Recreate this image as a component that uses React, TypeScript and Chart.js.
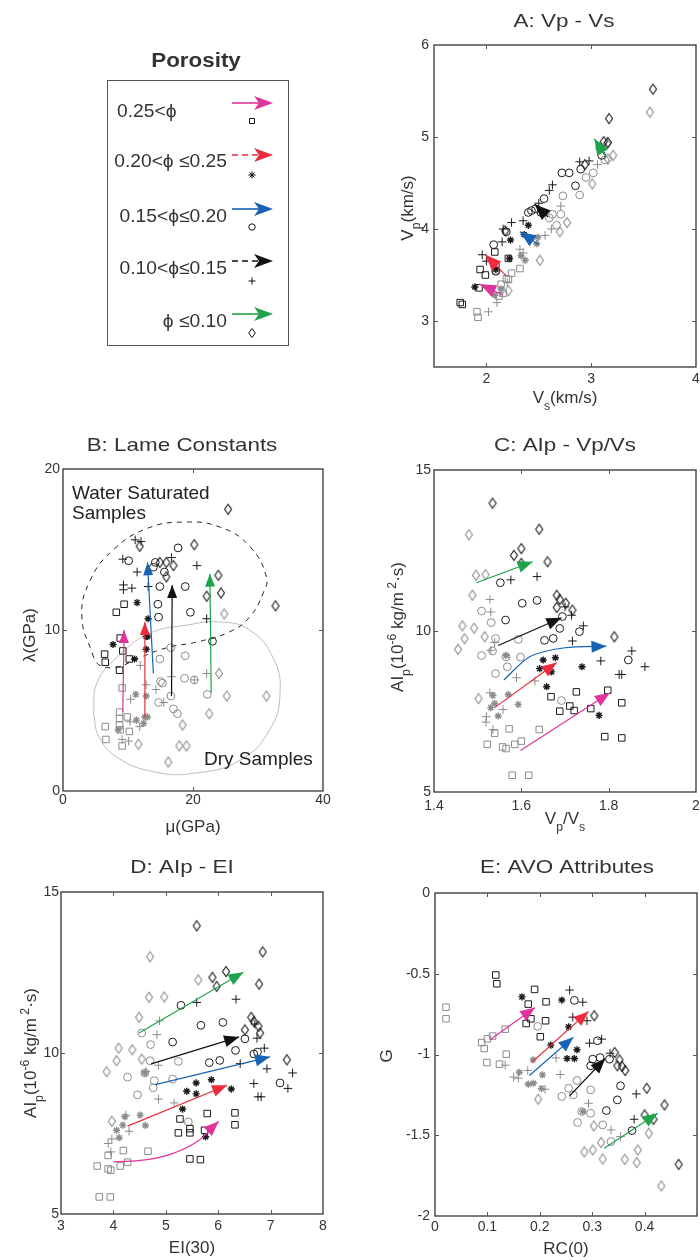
import React, { useEffect, useRef } from "react";
import { Chart, registerables } from "chart.js";

Chart.register(...registerables);

const FONT = '"Liberation Sans", Arial, Helvetica, sans-serif';
const W = 700;
const H = 1260;
const YW = 40;
const XH = 30;

const PINK = "#e0349b";
const RED = "#ec2b3c";
const BLUE = "#1763b6";
const BLACK = "#111111";
const GREEN = "#1fa34b";
const SAT = "#1a1a1a";
const DRY = "#8c8c8c";

type Pt = [number, number];

// ---------------- Panel A: Vp - Vs ----------------
const aTicksX = [2, 3, 4];
const aTicksY = [3, 4, 5, 6];
const aSquareSat: Pt[] = [[1.75, 3.2], [1.77, 3.18], [1.94, 3.56], [1.99, 3.5], [2.08, 3.75], [2.21, 3.68], [1.93, 3.36], [2.09, 3.6]];
const aSquareDry: Pt[] = [[1.91, 3.1], [1.92, 3.04], [2.32, 3.57], [2.24, 3.52], [2.21, 3.45], [2.14, 3.4], [2.16, 3.3], [2.19, 3.46], [2.12, 3.27]];
const aStarSat: Pt[] = [[1.89, 3.37], [2.22, 3.68], [2.23, 3.88], [2.4, 4.04], [2.09, 3.56], [2.36, 3.94]];
const aStarDry: Pt[] = [[2.08, 3.28], [2.37, 3.66], [2.49, 3.91], [2.48, 3.84], [2.33, 3.71], [2.14, 3.35]];
const aCircleSat: Pt[] = [[2.72, 4.61], [2.79, 4.61], [2.85, 4.47], [2.9, 4.65], [3.1, 4.8], [2.43, 4.2], [2.47, 4.22], [2.55, 4.33], [2.07, 3.83], [2.19, 3.97], [2.09, 3.54], [2.52, 4.18], [2.4, 4.18]];
const aCircleDry: Pt[] = [[2.73, 4.36], [2.89, 4.37], [2.95, 4.56], [3.02, 4.61], [2.63, 4.16], [2.71, 4.16], [2.67, 4.04], [2.6, 4.12], [2.09, 3.55], [3.13, 4.75]];
const aPlusSat: Pt[] = [[1.96, 3.72], [2.0, 3.65], [2.24, 4.07], [2.35, 4.09], [2.15, 3.86], [2.16, 4.0], [2.63, 4.48], [2.6, 4.42], [2.89, 4.73], [2.98, 4.74], [2.5, 4.28]];
const aPlusDry: Pt[] = [[2.02, 3.1], [2.1, 3.2], [2.13, 3.31], [2.32, 3.78], [2.35, 3.74], [2.56, 3.93], [2.71, 4.25], [2.62, 4.0], [3.06, 4.7], [2.2, 3.42]];
const aDiamondSat: Pt[] = [[3.59, 5.52], [3.17, 5.2], [3.12, 4.95], [3.16, 4.94], [2.94, 4.7], [2.18, 3.98], [3.08, 4.88]];
const aDiamondDry: Pt[] = [[3.56, 5.27], [3.21, 4.8], [3.16, 4.76], [3.01, 4.49], [2.77, 4.07], [2.7, 3.97], [2.51, 3.66], [2.21, 3.33], [3.15, 4.93]];
const aPinkArrow: Pt[] = [[2.16, 3.28], [1.94, 3.4]];
const aRedArrow: Pt[] = [[2.19, 3.49], [1.99, 3.72]];
const aBlueArrow: Pt[] = [[2.5, 3.83], [2.32, 3.97]];
const aBlackArrow: Pt[] = [[2.59, 4.13], [2.46, 4.27]];
const aGreenArrow: Pt[] = [[3.14, 4.78], [3.03, 4.98]];

// ---------------- Panel B: Lame constants ----------------
const bTicksX = [0, 20, 40];
const bTicksY = [0, 10, 20];
const bSquareSat: Pt[] = [[8.2, 11.1], [9.4, 11.6], [8.8, 9.5], [9.2, 8.7], [6.4, 8.5], [6.5, 8.0], [10.2, 8.2], [8.7, 7.5]];
const bSquareDry: Pt[] = [[9.1, 6.4], [8.7, 4.9], [8.7, 4.5], [8.7, 4.1], [8.8, 3.8], [9.9, 4.6], [10.2, 3.7], [6.5, 4.0], [6.6, 3.2], [9.1, 2.8]];
const bStarSat: Pt[] = [[11.4, 11.7], [13.1, 10.7], [12.8, 9.6], [12.8, 8.8], [7.7, 9.1], [11.0, 8.2], [13.0, 9.6]];
const bStarDry: Pt[] = [[11.2, 6.0], [12.8, 5.9], [12.6, 4.6], [13.0, 4.6], [11.3, 4.4], [12.4, 4.2], [8.5, 3.8]];
const bCircleSat: Pt[] = [[17.7, 15.1], [10.1, 14.3], [13.9, 13.9], [14.2, 14.2], [15.6, 13.6], [14.9, 12.7], [18.8, 12.7], [14.6, 11.6], [14.7, 10.8], [19.6, 11.1], [23.0, 9.3]];
const bCircleDry: Pt[] = [[14.9, 8.2], [16.6, 8.9], [18.8, 8.4], [15.0, 6.8], [15.3, 6.7], [18.7, 7.0], [20.2, 6.9], [16.6, 5.9], [14.7, 5.5], [17.0, 5.1], [17.6, 4.8], [22.2, 6.0]];
const bPlusSat: Pt[] = [[11.1, 15.6], [12.0, 15.5], [9.2, 14.4], [16.7, 14.5], [20.6, 14.0], [11.4, 13.6], [9.3, 12.8], [10.6, 12.6], [9.3, 12.5], [13.1, 12.7], [22.1, 10.7]];
const bPlusDry: Pt[] = [[11.9, 7.8], [12.8, 6.6], [14.3, 6.3], [15.5, 5.5], [16.7, 7.1], [10.4, 5.7], [10.3, 4.3], [11.8, 4.0], [9.1, 3.2], [10.1, 3.1], [22.1, 7.3], [20.2, 6.9]];
const bDiamondSat: Pt[] = [[25.4, 17.5], [20.2, 15.3], [11.8, 15.2], [14.9, 14.2], [15.9, 14.2], [17.0, 14.0], [15.9, 13.3], [23.9, 13.4], [24.3, 12.3], [22.1, 12.1], [32.7, 11.5]];
const bDiamondDry: Pt[] = [[24.8, 11.0], [24.0, 7.3], [25.2, 5.9], [31.3, 5.9], [18.4, 4.1], [22.5, 4.8], [17.9, 2.8], [19.0, 2.8], [11.6, 2.9], [16.2, 1.8]];
const bPinkArrow: Pt[] = [[9.2, 4.9], [9.4, 10.0]];
const bRedArrow: Pt[] = [[12.6, 4.6], [12.6, 10.5]];
const bBlueArrow: Pt[] = [[13.9, 7.3], [13.0, 14.2]];
const bBlackArrow: Pt[] = [[16.7, 5.9], [16.8, 12.8]];
const bGreenArrow: Pt[] = [[22.8, 6.1], [22.6, 13.5]];
const bWetContour: Pt[] = [[4.7, 8.3], [2.9, 10.8], [4.2, 13.1], [7.8, 15.0], [12.9, 16.3], [18.5, 16.7], [24.1, 16.4], [28.7, 15.2], [31.3, 13.3], [30.8, 12.3], [28.7, 10.8], [25.7, 9.9], [21.1, 9.3], [16.0, 8.9], [11.9, 8.3], [8.3, 7.7], [5.7, 7.8], [4.7, 8.3]];
const bDryContour: Pt[] = [[4.7, 4.8], [5.2, 6.7], [8.3, 8.3], [13.4, 9.8], [19.0, 10.3], [24.1, 10.5], [28.7, 10.0], [32.3, 8.3], [33.4, 6.1], [31.8, 3.8], [27.2, 1.9], [20.1, 1.1], [13.9, 1.2], [8.3, 2.1], [5.5, 3.4], [4.7, 4.8]];

// ---------------- Panel C: AIp - Vp/Vs ----------------
const cTicksX = [1.4, 1.6, 1.8, 2];
const cTicksY = [5, 10, 15];
const cSquareSat: Pt[] = [[1.668, 7.96], [1.726, 8.11], [1.688, 7.51], [1.711, 7.67], [1.721, 7.53], [1.759, 7.59], [1.798, 8.16], [1.83, 7.77], [1.791, 6.72], [1.83, 6.68]];
const cSquareDry: Pt[] = [[1.522, 6.48], [1.539, 6.82], [1.572, 6.96], [1.557, 6.4], [1.565, 6.35], [1.585, 6.48], [1.6, 6.58], [1.641, 6.94], [1.579, 5.52], [1.617, 5.52]];
const cStarSat: Pt[] = [[1.65, 9.1], [1.678, 9.17], [1.642, 8.83], [1.669, 8.73], [1.658, 8.27], [1.739, 8.89], [1.778, 7.38]];
const cStarDry: Pt[] = [[1.535, 8.0], [1.539, 7.75], [1.53, 7.62], [1.57, 8.03], [1.593, 7.72], [1.547, 7.36], [1.565, 9.24]];
const cCircleSat: Pt[] = [[1.552, 11.5], [1.602, 10.86], [1.636, 10.95], [1.564, 10.34], [1.694, 10.45], [1.688, 10.08], [1.673, 9.77], [1.653, 9.71], [1.733, 9.98], [1.845, 9.1]];
const cCircleDry: Pt[] = [[1.509, 10.62], [1.531, 10.26], [1.541, 9.77], [1.509, 9.24], [1.534, 9.38], [1.565, 9.2], [1.568, 8.89], [1.541, 8.68], [1.593, 9.74], [1.598, 9.19], [1.692, 7.84]];
const cPlusSat: Pt[] = [[1.576, 11.59], [1.636, 11.69], [1.715, 10.49], [1.742, 10.16], [1.717, 9.69], [1.853, 9.38], [1.782, 9.07], [1.824, 8.65], [1.83, 8.65], [1.883, 8.89], [1.7, 10.75]];
const cPlusDry: Pt[] = [[1.528, 10.98], [1.53, 10.59], [1.539, 9.64], [1.589, 8.55], [1.631, 8.45], [1.528, 8.08], [1.558, 7.56], [1.52, 7.34], [1.519, 7.17], [1.535, 6.94], [1.53, 9.4]];
const cDiamondSat: Pt[] = [[1.534, 13.97], [1.641, 13.16], [1.6, 12.56], [1.583, 12.35], [1.66, 12.15], [1.681, 11.11], [1.688, 10.98], [1.702, 10.86], [1.717, 10.65], [1.681, 10.73], [1.813, 9.82], [1.6, 12.1]];
const cDiamondDry: Pt[] = [[1.48, 12.99], [1.496, 11.73], [1.518, 11.75], [1.488, 11.11], [1.465, 10.16], [1.47, 9.76], [1.492, 10.09], [1.516, 9.82], [1.455, 9.43], [1.502, 7.9]];
const cPinkArrow: Pt[] = [[1.598, 6.29], [1.803, 8.08]];
const cRedArrow: Pt[] = [[1.539, 7.62], [1.681, 9.02]];
const cBlueArrow: Pt[] = [[1.56, 8.48], [1.619, 9.2], [1.7, 9.48], [1.795, 9.53]];
const cBlackArrow: Pt[] = [[1.547, 9.55], [1.692, 10.41]];
const cGreenArrow: Pt[] = [[1.497, 11.5], [1.626, 12.15]];

// ---------------- Panel D: AIp - EI ----------------
const dTicksX = [3, 4, 5, 6, 7, 8];
const dTicksY = [5, 10, 15];
const dSquareSat: Pt[] = [[5.27, 7.95], [5.79, 8.12], [6.32, 8.14], [6.32, 7.77], [5.24, 7.52], [5.46, 7.52], [5.46, 7.65], [5.74, 7.6], [5.46, 6.71], [5.66, 6.69]];
const dSquareDry: Pt[] = [[3.69, 6.49], [3.9, 6.82], [4.19, 6.97], [3.9, 6.4], [3.95, 6.36], [4.13, 6.49], [4.27, 6.61], [4.66, 6.95], [3.73, 5.53], [3.94, 5.53]];
const dStarSat: Pt[] = [[5.4, 8.81], [5.58, 9.07], [5.58, 8.73], [5.87, 9.17], [6.25, 8.88], [5.32, 8.26], [5.76, 7.4]];
const dStarDry: Pt[] = [[4.22, 8.02], [4.18, 7.76], [4.51, 8.07], [4.61, 7.75], [4.06, 7.6], [4.11, 7.37], [4.6, 9.38]];
const dCircleSat: Pt[] = [[5.29, 11.48], [5.67, 10.86], [6.09, 10.95], [5.13, 10.34], [6.51, 10.44], [6.33, 10.08], [6.68, 9.97], [6.75, 10.03], [6.03, 9.77], [5.83, 9.7], [7.18, 9.07]];
const dCircleDry: Pt[] = [[4.54, 10.62], [4.71, 10.26], [4.7, 9.76], [4.27, 9.25], [4.6, 9.38], [4.78, 9.14], [4.76, 8.92], [4.46, 8.7], [5.24, 9.74], [5.13, 9.19], [5.43, 7.86]];
const dPlusSat: Pt[] = [[5.59, 11.57], [6.34, 11.67], [6.74, 10.46], [6.88, 10.15], [6.42, 9.67], [6.93, 9.51], [6.68, 9.05], [6.76, 8.64], [6.82, 8.64], [7.42, 9.38], [7.33, 8.9], [6.7, 10.9]];
const dPlusDry: Pt[] = [[4.88, 11.0], [4.83, 10.57], [4.62, 9.43], [4.86, 9.62], [4.86, 8.57], [5.16, 8.45], [4.24, 8.07], [4.3, 7.57], [3.97, 7.33], [3.9, 7.19], [3.95, 6.93]];
const dDiamondSat: Pt[] = [[5.59, 13.95], [6.85, 13.14], [6.15, 12.53], [5.89, 12.35], [5.97, 12.07], [6.78, 12.14], [6.63, 11.11], [6.68, 10.98], [6.77, 10.83], [6.8, 10.62], [6.51, 10.72], [7.31, 9.79]];
const dDiamondDry: Pt[] = [[4.7, 12.99], [5.62, 12.27], [4.68, 11.73], [4.97, 11.74], [4.49, 11.11], [4.1, 10.15], [4.36, 10.1], [4.06, 9.76], [4.54, 9.81], [3.87, 9.42], [3.97, 7.88]];
const dPinkArrow: Pt[] = [[4.0, 6.62], [4.6, 6.68], [5.1, 6.86], [5.6, 7.25], [6.01, 7.88]];
const dRedArrow: Pt[] = [[4.27, 7.73], [6.17, 9.0]];
const dBlueArrow: Pt[] = [[4.8, 9.02], [6.99, 9.88]];
const dBlackArrow: Pt[] = [[4.72, 9.66], [6.4, 10.5]];
const dGreenArrow: Pt[] = [[4.49, 10.62], [6.48, 12.51]];

// ---------------- Panel E: AVO attributes ----------------
const eTicksX = [0, 0.1, 0.2, 0.3, 0.4];
const eTicksY = [0, -0.5, -1, -1.5, -2];
const eSquareSat: Pt[] = [[0.116, -0.508], [0.118, -0.562], [0.19, -0.597], [0.178, -0.688], [0.212, -0.674], [0.183, -0.779], [0.174, -0.808], [0.211, -0.791], [0.201, -0.89]];
const eSquareDry: Pt[] = [[0.021, -0.707], [0.021, -0.779], [0.089, -0.926], [0.1, -0.903], [0.11, -0.886], [0.094, -0.963], [0.134, -0.843], [0.136, -0.998], [0.099, -1.05], [0.123, -1.06]];
const eStarSat: Pt[] = [[0.166, -0.643], [0.242, -0.663], [0.255, -0.829], [0.221, -0.942], [0.271, -0.971], [0.252, -1.025], [0.266, -1.025]];
const eStarDry: Pt[] = [[0.187, -1.033], [0.161, -1.11], [0.188, -1.178], [0.178, -1.184], [0.203, -1.211], [0.205, -1.126], [0.282, -1.353]];
const eCircleSat: Pt[] = [[0.266, -0.665], [0.31, -0.915], [0.301, -1.029], [0.315, -1.019], [0.333, -1.029], [0.297, -1.07], [0.354, -1.194], [0.348, -1.281], [0.327, -1.347], [0.376, -1.471]];
const eCircleDry: Pt[] = [[0.196, -0.826], [0.271, -1.161], [0.255, -1.209], [0.242, -1.26], [0.264, -1.25], [0.297, -1.219], [0.297, -1.364], [0.272, -1.421], [0.32, -1.436], [0.336, -1.539], [0.28, -1.353]];
const ePlusSat: Pt[] = [[0.257, -0.601], [0.282, -0.676], [0.263, -0.769], [0.29, -0.791], [0.295, -0.93], [0.318, -0.905], [0.334, -0.992], [0.384, -1.244], [0.38, -1.401]];
const ePlusDry: Pt[] = [[0.134, -1.066], [0.15, -1.14], [0.159, -1.147], [0.177, -1.099], [0.21, -1.215], [0.239, -1.124], [0.231, -1.021], [0.293, -1.302], [0.336, -1.467], [0.354, -1.508]];
const eDiamondSat: Pt[] = [[0.304, -0.76], [0.343, -0.988], [0.352, -1.033], [0.357, -1.074], [0.348, -1.07], [0.363, -1.099], [0.404, -1.209], [0.438, -1.312], [0.4, -1.374], [0.417, -1.401], [0.465, -1.68]];
const eDiamondDry: Pt[] = [[0.197, -1.277], [0.303, -1.442], [0.317, -1.545], [0.285, -1.603], [0.301, -1.591], [0.32, -1.647], [0.362, -1.649], [0.385, -1.669], [0.387, -1.591], [0.408, -1.488], [0.432, -1.814]];
const ePinkArrow: Pt[] = [[0.105, -0.909], [0.191, -0.709]];
const eRedArrow: Pt[] = [[0.185, -1.048], [0.293, -0.733]];
const eBlueArrow: Pt[] = [[0.18, -1.13], [0.264, -0.893]];
const eBlackArrow: Pt[] = [[0.257, -1.256], [0.325, -1.025]];
const eGreenArrow: Pt[] = [[0.323, -1.581], [0.425, -1.364]];

// ---------------- Legend ----------------
const legendTitle = "Porosity";
const legendLabels = ["0.25<ϕ", "0.20<ϕ ≤0.25", "0.15<ϕ≤0.20", "0.10<ϕ≤0.15", "ϕ ≤0.10"];
const legendColors = [PINK, RED, BLUE, BLACK, GREEN];
const legendDashed = [false, true, false, true, false];
const legendMarkers = ["rect", "star", "circle", "cross", "diamond"];

// ---------------- Types & helpers ----------------
type Part = { t: string; k?: "sub" | "sup" };
interface ArrowDef { pts: Pt[]; color: string; tension?: number }
interface CurveDef { pts: Pt[]; color: string; dash: number[] }
interface Note { text: string; x: number; y: number }
interface Panel {
  frame: [number, number, number, number];
  xr: [number, number];
  yr: [number, number];
  xt: number[];
  yt: number[];
  xPad: number;
  yPad: number;
  markers: Pt[][];
  arrows: ArrowDef[];
  curves?: CurveDef[];
  head: [number, number];
  title: string;
  titleAt: [number, number];
  xLabel: Part[];
  xLabelAt: [number, number];
  yLabel: Part[];
  yLabelAt: [number, number];
  notes?: Note[];
  legend?: boolean;
}

const aiLabel: Part[] = [
  { t: "AI" }, { t: "p", k: "sub" }, { t: "(10" }, { t: "-6", k: "sup" },
  { t: " kg/m" }, { t: " 2", k: "sup" }, { t: "·s)" },
];

const PANELS: Panel[] = [
  {
    frame: [434, 45, 696, 367], xr: [1.5, 4], yr: [2.5, 6], xt: aTicksX, yt: aTicksY, xPad: 4, yPad: 5,
    markers: [aSquareSat, aSquareDry, aStarSat, aStarDry, aCircleSat, aCircleDry, aPlusSat, aPlusDry, aDiamondSat, aDiamondDry],
    arrows: [
      { pts: aPinkArrow, color: PINK }, { pts: aRedArrow, color: RED }, { pts: aBlueArrow, color: BLUE },
      { pts: aBlackArrow, color: BLACK }, { pts: aGreenArrow, color: GREEN },
    ],
    head: [16, 13],
    title: "A: Vp - Vs", titleAt: [564, 20],
    xLabel: [{ t: "V" }, { t: "s", k: "sub" }, { t: "(km/s)" }], xLabelAt: [565, 397],
    yLabel: [{ t: "V" }, { t: "p", k: "sub" }, { t: "(km/s)" }], yLabelAt: [407, 208],
    legend: true,
  },
  {
    frame: [63, 469, 323, 791], xr: [0, 40], yr: [0, 20], xt: bTicksX, yt: bTicksY, xPad: 1, yPad: 3,
    markers: [bSquareSat, bSquareDry, bStarSat, bStarDry, bCircleSat, bCircleDry, bPlusSat, bPlusDry, bDiamondSat, bDiamondDry],
    arrows: [
      { pts: bPinkArrow, color: PINK }, { pts: bRedArrow, color: RED }, { pts: bBlueArrow, color: BLUE },
      { pts: bBlackArrow, color: BLACK }, { pts: bGreenArrow, color: GREEN },
    ],
    curves: [
      { pts: bWetContour, color: "#222222", dash: [5, 5] },
      { pts: bDryContour, color: "#bdbdbd", dash: [] },
    ],
    head: [13, 10],
    title: "B: Lame Constants", titleAt: [182, 444],
    xLabel: [{ t: "μ(GPa)" }], xLabelAt: [193, 826],
    yLabel: [{ t: "λ(GPa)" }], yLabelAt: [29, 635],
    notes: [
      { text: "Water Saturated", x: 72, y: 492 },
      { text: "Samples", x: 72, y: 512 },
      { text: "Dry Samples", x: 204, y: 758 },
    ],
  },
  {
    frame: [434, 470, 696, 792], xr: [1.4, 2], yr: [5, 15], xt: cTicksX, yt: cTicksY, xPad: 6, yPad: 3,
    markers: [cSquareSat, cSquareDry, cStarSat, cStarDry, cCircleSat, cCircleDry, cPlusSat, cPlusDry, cDiamondSat, cDiamondDry],
    arrows: [
      { pts: cPinkArrow, color: PINK }, { pts: cRedArrow, color: RED }, { pts: cBlueArrow, color: BLUE, tension: 0.25 },
      { pts: cBlackArrow, color: BLACK }, { pts: cGreenArrow, color: GREEN },
    ],
    head: [15, 12],
    title: "C: AIp - Vp/Vs", titleAt: [565, 444],
    xLabel: [{ t: "V" }, { t: "p", k: "sub" }, { t: "/V" }, { t: "s", k: "sub" }], xLabelAt: [565, 818],
    yLabel: aiLabel, yLabelAt: [397, 627],
  },
  {
    frame: [61, 892, 323, 1214], xr: [3, 8], yr: [5, 15], xt: dTicksX, yt: dTicksY, xPad: 4, yPad: 2,
    markers: [dSquareSat, dSquareDry, dStarSat, dStarDry, dCircleSat, dCircleDry, dPlusSat, dPlusDry, dDiamondSat, dDiamondDry],
    arrows: [
      { pts: dPinkArrow, color: PINK, tension: 0.4 }, { pts: dRedArrow, color: RED }, { pts: dBlueArrow, color: BLUE },
      { pts: dBlackArrow, color: BLACK }, { pts: dGreenArrow, color: GREEN },
    ],
    head: [15, 12],
    title: "D: AIp - EI", titleAt: [182, 866],
    xLabel: [{ t: "EI(30)" }], xLabelAt: [192, 1247],
    yLabel: aiLabel, yLabelAt: [30, 1053],
  },
  {
    frame: [435, 893, 697, 1216], xr: [0, 0.5], yr: [-2, 0], xt: eTicksX, yt: eTicksY, xPad: 3, yPad: 5,
    markers: [eSquareSat, eSquareDry, eStarSat, eStarDry, eCircleSat, eCircleDry, ePlusSat, ePlusDry, eDiamondSat, eDiamondDry],
    arrows: [
      { pts: ePinkArrow, color: PINK }, { pts: eRedArrow, color: RED }, { pts: eBlueArrow, color: BLUE },
      { pts: eBlackArrow, color: BLACK }, { pts: eGreenArrow, color: GREEN },
    ],
    head: [15, 12],
    title: "E: AVO Attributes", titleAt: [567, 866],
    xLabel: [{ t: "RC(0)" }], xLabelAt: [566, 1248],
    yLabel: [{ t: "G" }], yLabelAt: [386, 1056],
  },
];

function drawRich(
  ctx: CanvasRenderingContext2D, parts: Part[], cx: number, cy: number, size: number,
  rot = 0, color = "#333", bold = false, stretch = 1, align: "center" | "left" | "right" = "center"
) {
  ctx.save();
  ctx.translate(cx, cy);
  ctx.rotate(rot);
  ctx.scale(stretch, 1);
  const f = (s: number) => `${bold ? "bold " : ""}${s}px ${FONT}`;
  let total = 0;
  const widths = parts.map((p) => {
    ctx.font = f(p.k ? size * 0.72 : size);
    const w = ctx.measureText(p.t).width;
    total += w;
    return w;
  });
  let x = align === "center" ? -total / 2 : align === "left" ? 0 : -total;
  ctx.textAlign = "left";
  ctx.textBaseline = "alphabetic";
  ctx.fillStyle = color;
  const base = size * 0.36;
  parts.forEach((p, i) => {
    ctx.font = f(p.k ? size * 0.72 : size);
    const dy = p.k === "sub" ? size * 0.38 : p.k === "sup" ? -size * 0.42 : 0;
    ctx.fillText(p.t, x, base + dy);
    x += widths[i];
  });
  ctx.restore();
}

function arrowHead(ctx: CanvasRenderingContext2D, tx: number, ty: number, fx: number, fy: number, len: number, wid: number, color: string) {
  const dx = tx - fx;
  const dy = ty - fy;
  const d = Math.hypot(dx, dy) || 1;
  const ux = dx / d;
  const uy = dy / d;
  const bx = tx - ux * len;
  const by = ty - uy * len;
  ctx.beginPath();
  ctx.moveTo(tx, ty);
  ctx.lineTo(bx - (uy * wid) / 2, by + (ux * wid) / 2);
  ctx.lineTo(bx + (uy * wid) / 2, by - (ux * wid) / 2);
  ctx.closePath();
  ctx.fillStyle = color;
  ctx.fill();
}

function legendMarker(ctx: CanvasRenderingContext2D, kind: string, x: number, y: number) {
  ctx.save();
  ctx.strokeStyle = "#111";
  ctx.lineWidth = 1;
  ctx.beginPath();
  if (kind === "rect") {
    ctx.rect(x - 2.5, y - 2.5, 5, 5);
  } else if (kind === "star") {
    for (let k = 0; k < 4; k++) {
      const a = (k * Math.PI) / 4;
      ctx.moveTo(x - 3.6 * Math.cos(a), y - 3.6 * Math.sin(a));
      ctx.lineTo(x + 3.6 * Math.cos(a), y + 3.6 * Math.sin(a));
    }
    ctx.lineWidth = 1;
  } else if (kind === "circle") {
    ctx.arc(x, y, 3.2, 0, Math.PI * 2);
  } else if (kind === "cross") {
    ctx.moveTo(x - 3.5, y);
    ctx.lineTo(x + 3.5, y);
    ctx.moveTo(x, y - 3.5);
    ctx.lineTo(x, y + 3.5);
  } else {
    ctx.moveTo(x, y - 4.5);
    ctx.lineTo(x + 3.3, y);
    ctx.lineTo(x, y + 4.5);
    ctx.lineTo(x - 3.3, y);
    ctx.closePath();
  }
  ctx.stroke();
  ctx.restore();
}

function drawLegend(ctx: CanvasRenderingContext2D) {
  drawRich(ctx, [{ t: legendTitle }], 196, 60, 20, 0, "#333", true, 1.12);
  ctx.save();
  ctx.strokeStyle = "#555";
  ctx.lineWidth = 1;
  ctx.strokeRect(107.5, 80.5, 181, 265);
  ctx.restore();
  const textY = [110, 160, 215, 267, 320];
  const arrowY = [103, 155, 209, 261, 314];
  const markY = [121, 175, 227, 281, 333];
  legendLabels.forEach((lab, i) => {
    if (i === 0) drawRich(ctx, [{ t: lab }], 117, textY[i], 18.5, 0, "#333", false, 1.04, "left");
    else drawRich(ctx, [{ t: lab }], 227, textY[i], 18.5, 0, "#333", false, 1.04, "right");
    const y = arrowY[i];
    ctx.save();
    ctx.strokeStyle = legendColors[i];
    ctx.lineWidth = 1.6;
    ctx.setLineDash(legendDashed[i] ? [6, 4] : []);
    ctx.beginPath();
    ctx.moveTo(232, y);
    ctx.lineTo(262, y);
    ctx.stroke();
    ctx.setLineDash([]);
    ctx.beginPath();
    ctx.moveTo(273, y);
    ctx.lineTo(254, y - 7);
    ctx.lineTo(259, y);
    ctx.lineTo(254, y + 7);
    ctx.closePath();
    ctx.fillStyle = legendColors[i];
    ctx.fill();
    ctx.restore();
    legendMarker(ctx, legendMarkers[i], 252, markY[i]);
  });
}

function makeDiamond(color: string): HTMLCanvasElement {
  const w = 7;
  const h = 10;
  const c = document.createElement("canvas");
  c.width = w + 3;
  c.height = h + 3;
  const g = c.getContext("2d") as CanvasRenderingContext2D;
  g.strokeStyle = color;
  g.lineWidth = 1.1;
  const cx = c.width / 2;
  const cy = c.height / 2;
  g.beginPath();
  g.moveTo(cx, cy - h / 2);
  g.lineTo(cx + w / 2, cy);
  g.lineTo(cx, cy + h / 2);
  g.lineTo(cx - w / 2, cy);
  g.closePath();
  g.stroke();
  return c;
}

const toXY = (pts: Pt[]) => pts.map(([x, y]) => ({ x, y }));

function makeChart(canvas: HTMLCanvasElement, p: Panel, dia: { sat: HTMLCanvasElement; dry: HTMLCanvasElement }) {
  const styles: any[] = ["rect", "rect", "star", "star", "circle", "circle", "cross", "cross", dia.sat, dia.dry];
  const radii = [4.6, 4.6, 3.6, 3.6, 3.9, 3.9, 4.3, 4.3, 5, 5];
  const datasets: any[] = [];
  p.arrows.forEach((a) => {
    datasets.push({
      data: toXY(a.pts), showLine: true, borderColor: a.color, borderWidth: 1.2,
      pointRadius: 0, pointHoverRadius: 0, tension: a.tension ?? 0, order: 0, fill: false,
      arrowHead: true, arrowColor: a.color,
    });
  });
  p.markers.forEach((m, i) => {
    const col = i % 2 === 0 ? SAT : DRY;
    datasets.push({
      data: toXY(m), showLine: false, pointStyle: styles[i], pointRadius: radii[i], pointHoverRadius: radii[i],
      pointBorderColor: col, borderColor: col, pointBackgroundColor: "rgba(0,0,0,0)", backgroundColor: "rgba(0,0,0,0)",
      pointBorderWidth: i === 2 || i === 3 ? 1.4 : 1, order: 1,
    });
  });
  (p.curves || []).forEach((c) => {
    datasets.push({
      data: toXY(c.pts), showLine: true, borderColor: c.color, borderDash: c.dash, borderWidth: 1,
      pointRadius: 0, pointHoverRadius: 0, tension: 0.45, order: 2, fill: false,
    });
  });

  const axis = (min: number, max: number, ticks: number[], pad: number, isX: boolean) => ({
    type: "linear" as const,
    min,
    max,
    grid: { display: false, drawTicks: false },
    border: { display: false },
    ticks: {
      autoSkip: false, maxRotation: 0, padding: pad, color: "#333",
      font: { family: FONT, size: 14 },
      callback: (v: any) => String(v),
    },
    afterBuildTicks: (s: any) => { s.ticks = ticks.map((v) => ({ value: v })); },
    afterFit: (s: any) => {
      if (isX) s.height = XH;
      else s.width = YW;
      s.paddingLeft = 0; s.paddingRight = 0; s.paddingTop = 0; s.paddingBottom = 0;
    },
  });

  const [l, t, r, b] = p.frame;
  const plugin = {
    id: "panelDecor",
    afterDatasetsDraw(chart: any) {
      const ctx: CanvasRenderingContext2D = chart.ctx;
      chart.data.datasets.forEach((ds: any, i: number) => {
        if (!ds.arrowHead) return;
        const pts = chart.getDatasetMeta(i).data;
        const last = pts[pts.length - 1];
        const prev = pts[pts.length - 2];
        let fx = prev.x;
        let fy = prev.y;
        if (last.cp1x !== undefined && Math.hypot(last.cp1x - last.x, last.cp1y - last.y) > 1) {
          fx = last.cp1x; fy = last.cp1y;
        }
        arrowHead(ctx, last.x, last.y, fx, fy, p.head[0], p.head[1], ds.arrowColor);
      });
    },
    afterDraw(chart: any) {
      const ctx: CanvasRenderingContext2D = chart.ctx;
      const ca = chart.chartArea;
      const xs = chart.scales.x;
      const ys = chart.scales.y;
      ctx.save();
      ctx.strokeStyle = "#333";
      ctx.lineWidth = 1.3;
      ctx.strokeRect(ca.left, ca.top, ca.right - ca.left, ca.bottom - ca.top);
      ctx.lineWidth = 1;
      ctx.strokeStyle = "#555";
      ctx.beginPath();
      p.xt.forEach((v) => {
        const px = Math.round(xs.getPixelForValue(v)) + 0.5;
        if (px <= ca.left + 2 || px >= ca.right - 2) return;
        ctx.moveTo(px, ca.bottom); ctx.lineTo(px, ca.bottom - 4);
        ctx.moveTo(px, ca.top); ctx.lineTo(px, ca.top + 4);
      });
      p.yt.forEach((v) => {
        const py = Math.round(ys.getPixelForValue(v)) + 0.5;
        if (py <= ca.top + 2 || py >= ca.bottom - 2) return;
        ctx.moveTo(ca.left, py); ctx.lineTo(ca.left + 4, py);
        ctx.moveTo(ca.right, py); ctx.lineTo(ca.right - 4, py);
      });
      ctx.stroke();
      ctx.restore();
      drawRich(ctx, [{ t: p.title }], p.titleAt[0], p.titleAt[1], 19, 0, "#333", false, 1.18);
      drawRich(ctx, p.xLabel, p.xLabelAt[0], p.xLabelAt[1], 17, 0, "#333");
      drawRich(ctx, p.yLabel, p.yLabelAt[0], p.yLabelAt[1], 17, -Math.PI / 2, "#333");
      (p.notes || []).forEach((n) => drawRich(ctx, [{ t: n.text }], n.x, n.y, 19, 0, "#222", false, 1, "left"));
      if (p.legend) drawLegend(ctx);
    },
  };

  return new Chart(canvas, {
    type: "scatter",
    data: { datasets },
    options: {
      responsive: false,
      maintainAspectRatio: false,
      animation: false,
      devicePixelRatio: 1,
      events: [],
      layout: { autoPadding: false, padding: { left: l - YW, top: t, right: W - r, bottom: H - b - XH } },
      plugins: { legend: { display: false }, tooltip: { enabled: false }, title: { display: false } },
      scales: {
        x: axis(p.xr[0], p.xr[1], p.xt, p.xPad, true),
        y: axis(p.yr[0], p.yr[1], p.yt, p.yPad, false),
      },
    } as any,
    plugins: [plugin],
  });
}

export default function App() {
  const refs = useRef<Array<HTMLCanvasElement | null>>([]);
  useEffect(() => {
    const dia = { sat: makeDiamond(SAT), dry: makeDiamond(DRY) };
    const charts = PANELS.map((p, i) => makeChart(refs.current[i] as HTMLCanvasElement, p, dia));
    return () => charts.forEach((c) => c.destroy());
  }, []);
  return (
    <div style={{ position: "absolute", left: 0, top: 0, width: W, height: H, background: "#fff", overflow: "hidden" }}>
      {PANELS.map((_, i) => (
        <canvas
          key={i}
          ref={(el) => { refs.current[i] = el; }}
          width={W}
          height={H}
          style={{ position: "absolute", left: 0, top: 0, width: W, height: H }}
        />
      ))}
    </div>
  );
}
